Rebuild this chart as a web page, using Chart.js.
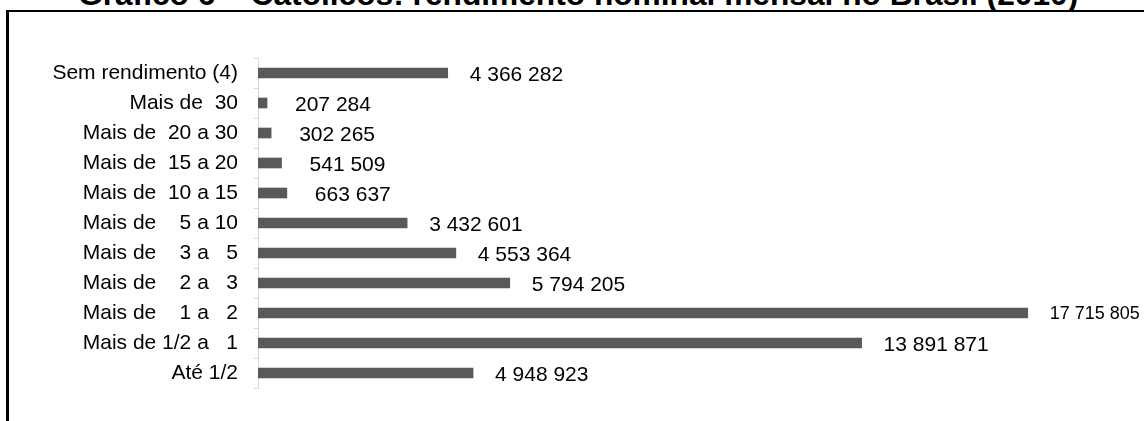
<!DOCTYPE html>
<html>
<head>
<meta charset="utf-8">
<script src="https://cdn.jsdelivr.net/npm/chart.js@4/dist/chart.umd.min.js"></script>
<style>
  html, body { margin:0; padding:0; background:#fff; }
  #wrap { position:relative; width:1144px; height:421px; overflow:hidden; }
  #frame { position:absolute; left:6px; top:10px; width:1300px; height:600px; border-top:2px solid #000; border-left:3px solid #000; }
  #title { position:absolute; left:78px; top:-21px; white-space:nowrap; font:bold 31.7px "Liberation Sans", Arial, sans-serif; line-height:1; color:#000; }
  #chart { position:absolute; left:0; top:0; }
</style>
</head>
<body>
<div id="wrap">
  <div id="frame"></div>
  <div id="title">Gráfico 6 – Católicos: rendimento nominal mensal no Brasil (2010)</div>
  <canvas id="chart" width="1144" height="421"></canvas>
</div>
<script>
// income classes (salários mínimos), top to bottom
const classes = ['Sem rendimento (4)', 'Mais de  30', 'Mais de  20 a 30', 'Mais de  15 a 20', 'Mais de  10 a 15',
  'Mais de    5 a 10', 'Mais de    3 a   5', 'Mais de    2 a   3', 'Mais de    1 a   2', 'Mais de 1/2 a   1', 'Até 1/2'];
const people = [4366282, 207284, 302265, 541509, 663637, 3432601, 4553364, 5794205, 17715805, 13891871, 4948923];
const X_MAX = 20000000;

const FONT = '"Liberation Sans", Arial, sans-serif';
function fmt(n){ return String(n).replace(/\B(?=(\d{3})+(?!\d))/g, ' '); }

// value labels to the right of each bar
const barLabels = {
  id:'barLabels',
  afterDatasetsDraw(chart){
    const ctx = chart.ctx;
    const meta = chart.getDatasetMeta(0);
    const top = Math.max(...people);
    ctx.save();
    ctx.fillStyle = '#000';
    ctx.textAlign = 'left';
    ctx.textBaseline = 'alphabetic';
    meta.data.forEach((bar, i)=>{
      const size = people[i]===top ? 18 : 21;
      const gap = people[i] < 1000000 ? 28 : 22;
      ctx.font = size+'px '+FONT;
      ctx.fillText(fmt(people[i]), bar.x + gap, bar.y + size*0.36);
    });
    ctx.restore();
  }
};

new Chart(document.getElementById('chart').getContext('2d'), {
  type:'bar',
  data:{ labels:classes, datasets:[{ data:people, backgroundColor:'#595959', barThickness:10, borderWidth:0 }] },
  options:{
    indexAxis:'y', responsive:false, animation:false,
    layout:{ padding:{ left:0, top:58, right:17, bottom:33 } },
    plugins:{ legend:{display:false}, tooltip:{enabled:false} },
    scales:{
      x:{ display:false, min:0, max:X_MAX },
      y:{
        afterFit(scale){ scale.width = 258; },
        grid:{ offset:true, drawOnChartArea:false, drawTicks:true, tickLength:4, color:'#d9d9d9' },
        border:{ display:true, color:'#d9d9d9', width:1 },
        ticks:{ color:'#000', padding:16, font:{ family:FONT, size:21 } }
      }
    }
  },
  plugins:[barLabels]
});
</script>
</body>
</html>
